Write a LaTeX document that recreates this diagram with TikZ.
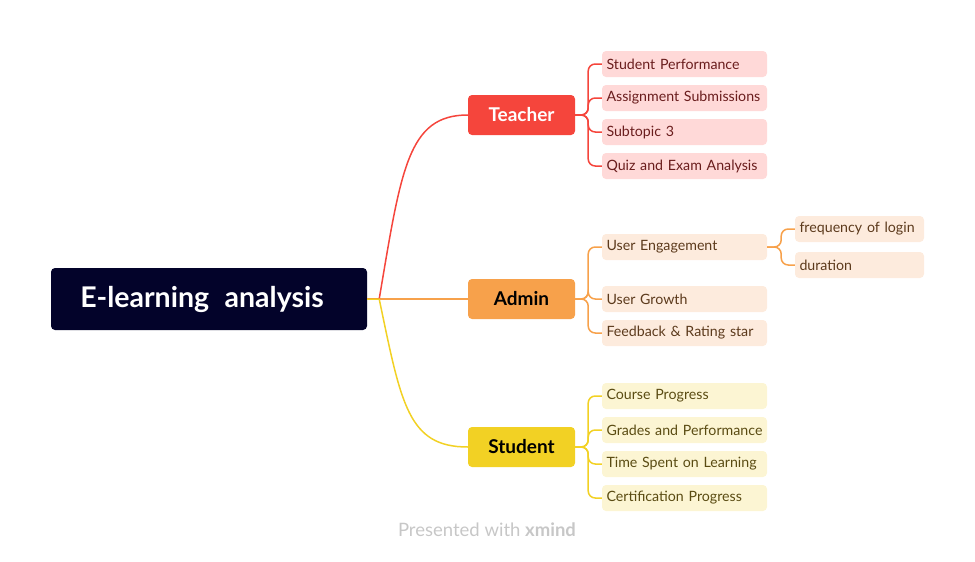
\documentclass[tikz,border=0pt]{standalone}
\usepackage{fontspec}
\setmainfont{Lato}
\definecolor{rootfill}{HTML}{03032A}
\definecolor{tred}{HTML}{F5453C}
\definecolor{torange}{HTML}{F7A14B}
\definecolor{tyellow}{HTML}{F2D124}
\definecolor{lred}{HTML}{FFD9D8}
\definecolor{lorange}{HTML}{FDEBDD}
\definecolor{lyellow}{HTML}{FCF5D3}
\definecolor{txred}{HTML}{6A1D1D}
\definecolor{txorange}{HTML}{5C3A1C}
\definecolor{txyellow}{HTML}{5A4B12}
\tikzset{
  rootbox/.style={fill=rootfill, rounded corners=4pt, minimum width=316pt, minimum height=62pt,
    text=white, font=\fontsize{28.5}{32}\selectfont\bfseries, inner sep=0pt},
  mainbox/.style={rounded corners=4pt, minimum width=107pt, minimum height=40pt,
    font=\fontsize{19}{22}\selectfont\bfseries, inner sep=0pt},
  leafbox/.style={rounded corners=4pt, minimum width=165pt, minimum height=26pt, text width=160pt,
    align=left, font=\fontsize{14.2}{16}\selectfont, inner sep=0pt,
    execute at begin node={\hspace*{2pt}}},
  subbox/.style={leafbox, minimum width=129pt, text width=124pt},
  link/.style={line width=1.5pt, rounded corners=7pt},
}
\begin{document}
\begin{tikzpicture}[x=1pt,y=-1pt]
\useasboundingbox (0,0) rectangle (975,562);
% central topic
\node[rootbox] (root) at (209,299) {\hspace{-14pt}E-learning\hspace{0.3em} analysis};
% main topics
\node[mainbox, fill=tred, text=white] (teacher) at (521.5,115) {Teacher};
\node[mainbox, fill=torange, text=black] (admin) at (521.5,299) {Admin};
\node[mainbox, fill=tyellow, text=black] (student) at (521.5,447) {Student};
% teacher subtopics
\node[leafbox, fill=lred, text=txred] (t1) at (684.5,64) {Student Performance};
\node[leafbox, fill=lred, text=txred] (t2) at (684.5,98) {Assignment Submissions};
\node[leafbox, fill=lred, text=txred] (t3) at (684.5,132) {Subtopic 3};
\node[leafbox, fill=lred, text=txred] (t4) at (684.5,166) {Quiz and Exam Analysis};
% admin subtopics
\node[leafbox, fill=lorange, text=txorange] (a1) at (684.5,247) {User Engagement};
\node[leafbox, fill=lorange, text=txorange] (a2) at (684.5,299) {User Growth};
\node[leafbox, fill=lorange, text=txorange] (a3) at (684.5,333) {Feedback \& Rating star};
\node[subbox, fill=lorange, text=txorange] (e1) at (859.5,229) {frequency of login};
\node[subbox, fill=lorange, text=txorange] (e2) at (859.5,265) {duration};
% student subtopics
\node[leafbox, fill=lyellow, text=txyellow] (s1) at (684.5,396) {Course Progress};
\node[leafbox, fill=lyellow, text=txyellow] (s2) at (684.5,430) {Grades and Performance};
\node[leafbox, fill=lyellow, text=txyellow] (s3) at (684.5,464) {Time Spent on Learning};
\node[leafbox, fill=lyellow, text=txyellow] (s4) at (684.5,498) {Certification Progress};
% branches from the central topic
\coordinate (hub) at ([xshift=12pt]root.east);
\draw[line width=1.5pt, torange] (root.east) -- (admin.west);
\draw[line width=1.5pt, tred] (root.east) -- (hub) .. controls +(22,-130) and +(-60,0) .. (teacher.west);
\draw[line width=1.5pt, tyellow] (root.east) -- (hub) .. controls +(22,105) and +(-60,0) .. (student.west);
% brackets to subtopics
\foreach \n in {t1,t2,t3,t4}
  \draw[link, tred] (teacher.east) -- ++(13,0) |- (\n.west);
\foreach \n in {a1,a2,a3}
  \draw[link, torange] (admin.east) -- ++(13,0) |- (\n.west);
\foreach \n in {e1,e2}
  \draw[link, torange] (a1.east) -- ++(14,0) |- (\n.west);
\foreach \n in {s1,s2,s3,s4}
  \draw[link, tyellow] (student.east) -- ++(13,0) |- (\n.west);
% footer
\node[text=black!22, font=\fontsize{18.5}{22}\selectfont] (foot) at (487,530) {Presented with \textbf{xmind}};
\end{tikzpicture}
\end{document}
